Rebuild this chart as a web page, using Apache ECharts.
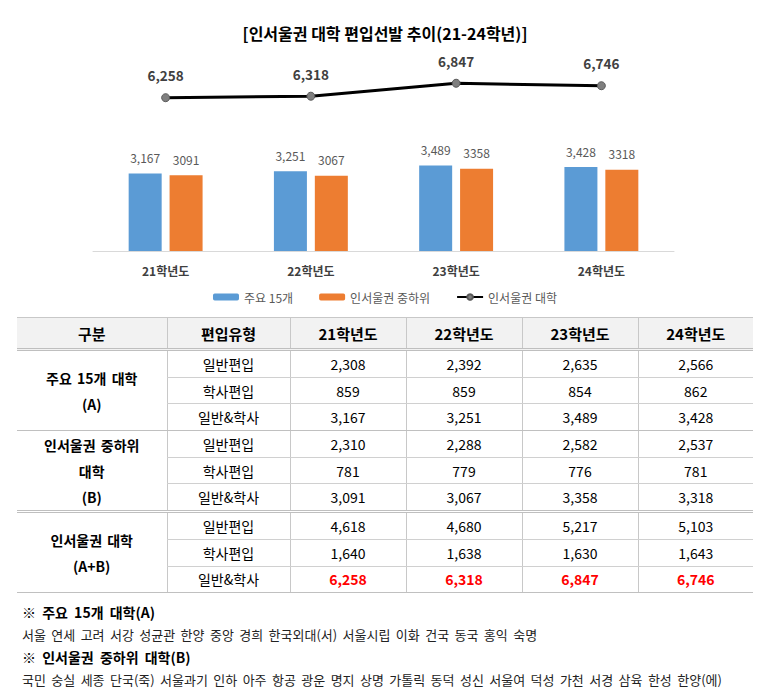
<!DOCTYPE html>
<html><head><meta charset="utf-8">
<script src="https://cdn.jsdelivr.net/npm/echarts@6/dist/echarts.min.js"></script>
<style>
html,body{margin:0;padding:0;background:#fff;font-family:"Noto Sans CJK KR","Noto Sans",sans-serif;}
#chart{position:absolute;left:0;top:0;width:770px;height:310px;}
#tbl{position:absolute;left:17px;top:317px;width:736px;border-collapse:collapse;table-layout:fixed;font-size:14px;color:#000;}
#tbl th{background:#f2f2f2;font-weight:bold;font-size:15px;height:30px;border-top:1px solid #c8c8c8;border-bottom:3px double #bfbfbf;border-left:1px solid #c8c8c8;padding:0;}
#tbl td{height:25.7px;text-align:center;border-bottom:1px solid #d0d0d0;border-left:1px solid #c8c8c8;padding:0;}
#tbl th:first-child,#tbl td.grp{border-left:none;}
#tbl td.grp{font-weight:bold;font-size:14px;line-height:26px;border-bottom:1px solid #c0c0c0;word-spacing:2px;}
#tbl tr.gend td{border-bottom:1px solid #c0c0c0;}
#tbl tr.dbl td{border-bottom:3px double #bfbfbf;}
#tbl td.red{color:#ff0000;font-weight:bold;}
#notes{position:absolute;left:22px;top:601px;font-size:13px;color:#222;word-spacing:2.5px;}
#notes .h{font-weight:bold;font-size:14px;color:#000;height:23px;line-height:23px;word-spacing:3px;}
#notes .t{height:22px;line-height:22px;}
</style></head>
<body>
<div id="chart"></div>
<table id="tbl"></table>
<div id="notes"></div>
<script>
// ---- data ----
const years = ['21학년도','22학년도','23학년도','24학년도'];
const seriesNames = ['주요 15개','인서울권 중하위','인서울권 대학'];
const mainA = [3167,3251,3489,3428];
const midB = [3091,3067,3358,3318];
const totalAB = [6258,6318,6847,6746];
const title = '[인서울권 대학 편입선발 추이(21-24학년)]';

const headers = ['구분','편입유형','21학년도','22학년도','23학년도','24학년도'];
const types = ['일반편입','학사편입','일반&학사'];
const groupLabels = ['주요 15개 대학<br>(A)','인서울권 중하위<br>대학<br>(B)','인서울권 대학<br>(A+B)'];
const aGeneral = [2308,2392,2635,2566];
const aBachelor = [859,859,854,862];
const aBoth = [3167,3251,3489,3428];
const bGeneral = [2310,2288,2582,2537];
const bBachelor = [781,779,776,781];
const bBoth = [3091,3067,3358,3318];
const tGeneral = [4618,4680,5217,5103];
const tBachelor = [1640,1638,1630,1643];
const tBoth = [6258,6318,6847,6746];

const noteA = '※ 주요 15개 대학(A)';
const noteAList = '서울 연세 고려 서강 성균관 한양 중앙 경희 한국외대(서) 서울시립 이화 건국 동국 홍익 숙명';
const noteB = '※ 인서울권 중하위 대학(B)';
const noteBList = '국민 숭실 세종 단국(죽) 서울과기 인하 아주 항공 광운 명지 상명 가톨릭 동덕 성신 서울여 덕성 가천 서경 삼육 한성 한양(에)';

const fmt = v => v.toLocaleString('en-US');
const FONT = '"Noto Sans CJK KR","Noto Sans",sans-serif';

// ---- chart ----
const chart = echarts.init(document.getElementById('chart'), null, {renderer:'svg'});
chart.setOption({
  animation:false,
  textStyle:{fontFamily:FONT},
  title:{text:title,left:'center',top:20,textStyle:{fontSize:16,fontWeight:'bold',color:'#000',fontFamily:FONT}},
  legend:{data:seriesNames,bottom:2,left:'center',itemWidth:26,itemHeight:7,itemGap:26,
    textStyle:{fontSize:12,color:'#595959',fontFamily:FONT}},
  grid:{left:93,right:96,top:55,bottom:59},
  xAxis:{type:'category',data:years,axisTick:{show:false},
    axisLine:{lineStyle:{color:'#d9d9d9',width:1}},
    axisLabel:{fontSize:12,fontWeight:'bold',color:'#404040',margin:13,fontFamily:FONT}},
  yAxis:{type:'value',min:0,max:8000,show:false,splitLine:{show:false}},
  series:[
    {name:seriesNames[0],type:'bar',data:mainA,barWidth:33,barGap:'24%',
     itemStyle:{color:'#5b9bd5'},
     label:{show:true,position:'top',distance:10,fontSize:12,color:'#595959',formatter:p=>fmt(p.value)}},
    {name:seriesNames[1],type:'bar',data:midB,barWidth:33,
     itemStyle:{color:'#ed7d31'},
     label:{show:true,position:'top',distance:10,fontSize:12,color:'#595959',formatter:p=>String(p.value)}},
    {name:seriesNames[2],type:'line',data:totalAB,symbol:'circle',symbolSize:8,
     lineStyle:{color:'#000',width:3},
     itemStyle:{color:'#7f7f7f',borderColor:'#595959',borderWidth:1},
     label:{show:true,position:'top',distance:11,fontSize:13.5,fontWeight:'bold',color:'#404040',formatter:p=>fmt(p.value)}}
  ]
});

// ---- table ----
const tbl = document.getElementById('tbl');
let html = '<colgroup><col style="width:150px"><col style="width:123px"><col style="width:116px"><col style="width:116px"><col style="width:116px"><col style="width:115px"></colgroup>';
html += '<tr>' + headers.map(h=>'<th>'+h+'</th>').join('') + '</tr>';
const groups = [[aGeneral,aBachelor,aBoth],[bGeneral,bBachelor,bBoth],[tGeneral,tBachelor,tBoth]];
groups.forEach((g,gi)=>{
  g.forEach((row,ri)=>{
    let cls = '';
    if (ri===2) cls = gi===1 ? 'dbl' : 'gend';
    html += '<tr class="'+cls+'">';
    if (ri===0) html += '<td class="grp" rowspan="3"'+(gi===1?' style="border-bottom:3px double #bfbfbf"':'')+'>'+groupLabels[gi]+'</td>';
    html += '<td>'+types[ri]+'</td>';
    row.forEach(v=>{ html += '<td'+(gi===2&&ri===2?' class="red"':'')+'>'+fmt(v)+'</td>'; });
    html += '</tr>';
  });
});
tbl.innerHTML = html;

// ---- notes ----
document.getElementById('notes').innerHTML =
  '<div class="h">'+noteA+'</div><div class="t">'+noteAList+'</div>'+
  '<div class="h">'+noteB+'</div><div class="t">'+noteBList+'</div>';
</script>
</body></html>
